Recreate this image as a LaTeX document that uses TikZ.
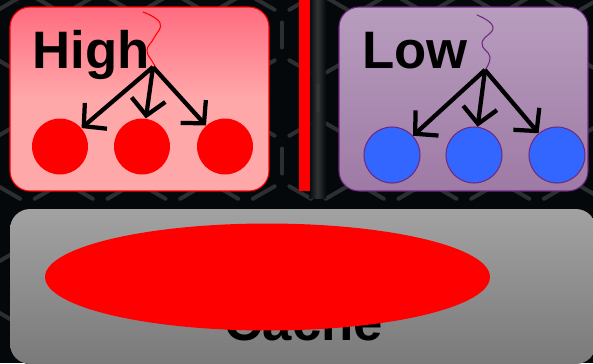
\documentclass[tikz,border=0pt]{standalone}
\usepackage{fontspec}
\setmainfont{Liberation Sans}
\usetikzlibrary{arrows.meta, shapes.geometric}
\definecolor{colBg}{RGB}{4,8,10}
\definecolor{colHex}{RGB}{44,46,48}
\definecolor{colGlow}{RGB}{58,60,60}
\definecolor{colHiTop}{RGB}{255,108,128}
\definecolor{colHiBot}{RGB}{255,168,170}
\definecolor{colLoTop}{RGB}{184,157,190}
\definecolor{colLoBot}{RGB}{158,122,165}
\definecolor{colLoLine}{RGB}{112,40,130}
\definecolor{colBlue}{RGB}{51,102,255}
\definecolor{colCacheTop}{RGB}{162,162,162}
\definecolor{colCacheBot}{RGB}{122,122,122}
\tikzset{
	hexline/.style={colHex, line width=0.08cm, line cap=round,
		shorten >=0.17cm, shorten <=0.17cm},
	hexcell/.pic={
		\draw[hexline] (0,0) -- (0,42);
		\draw[hexline] (0,42) -- (-36.37,63);
		\draw[hexline] (0,42) -- (36.37,63);
	},
	prioritybox/.style={draw, rounded corners=0.4cm, line width=0.6pt,
		minimum width=4.98cm, minimum height=3.68cm},
	bigword/.style={font=\fontsize{30}{36}\selectfont\bfseries, inner sep=0pt},
	task/.style={circle, minimum size=1.12cm, inner sep=0pt},
	forkarrow/.style={-{Straight Barb[length=0.32cm, width=0.68cm]},
		line width=0.085cm, black},
	squiggle/.style={line width=0.6pt, line cap=round},
}
\begin{document}
\begin{tikzpicture}[x=0.02cm, y=-0.02cm]
	\useasboundingbox (0,0) rectangle (593,363);
	\fill[colBg] (0,0) rectangle (593,363);

	% honeycomb plate behind everything
	\begin{scope}
		\clip (0,0) rectangle (593,363);
		\foreach \i in {-5,...,5}
			\foreach \j in {-1,...,3} {
				\pic at ({282+72.75*\i}, {14+126*\j}) {hexcell};
				\pic at ({318.37+72.75*\i}, {77+126*\j}) {hexcell};
			}
	\end{scope}

	% divider between the two queues
	\shade[left color=colBg, right color=colBg, middle color=colGlow, opacity=0.85]
		(309,0) rectangle (326,198);
	\fill[red] (299,0) rectangle (310,191);

	% high priority queue
	\node[prioritybox, draw=red, minimum width=5.18cm, top color=colHiTop,
		bottom color=colHiBot, middle color=colHiBot] (high) at (139.5,99) {};
	\node[bigword, anchor=base west] (highlabel) at (32,68) {High};
	\coordinate (hifork) at (153,67);
	\draw[squiggle, red] plot[smooth, tension=0.8]
		coordinates {(143,12) (160,23) (154,38) (147,50) (152,61) (155,66) (153,67)};
	\node[task, fill=red] (hi1) at (60,146.5) {};
	\node[task, fill=red] (hi2) at (142,146.5) {};
	\node[task, fill=red] (hi3) at (225,146.5) {};
	\foreach \t in {hi1, hi2, hi3}
		\draw[forkarrow] (hifork) -- (\t);

	% low priority queue
	\node[prioritybox, draw=colLoLine, top color=colLoTop, bottom color=colLoBot]
		(low) at (463.5,99) {};
	\node[bigword, anchor=base west] (lowlabel) at (362,68) {Low};
	\coordinate (lofork) at (485,70);
	\draw[squiggle, colLoLine] plot[smooth, tension=0.8]
		coordinates {(477,15) (493,27) (482,43) (490,57) (485,70)};
	\node[task, fill=colBlue, draw=colLoLine, line width=0.6pt] (lo1) at (392,155) {};
	\node[task, fill=colBlue, draw=colLoLine, line width=0.6pt] (lo2) at (474,155) {};
	\node[task, fill=colBlue, draw=colLoLine, line width=0.6pt] (lo3) at (557,155) {};
	\foreach \t in {lo1, lo2, lo3}
		\draw[forkarrow] (lofork) -- (\t);

	% shared cache, mostly hidden by the hot set
	\node[rounded corners=0.4cm, top color=colCacheTop, bottom color=colCacheBot,
		minimum width=11.72cm, minimum height=3.1cm] (cache) at (303,286.5) {};
	\node[bigword, anchor=base] (cachelabel) at (304,340) {Cache};
	\node[ellipse, fill=red, minimum width=8.9cm, minimum height=2.14cm,
		inner sep=0pt] (hotset) at (267.5,277) {};
\end{tikzpicture}
\end{document}
